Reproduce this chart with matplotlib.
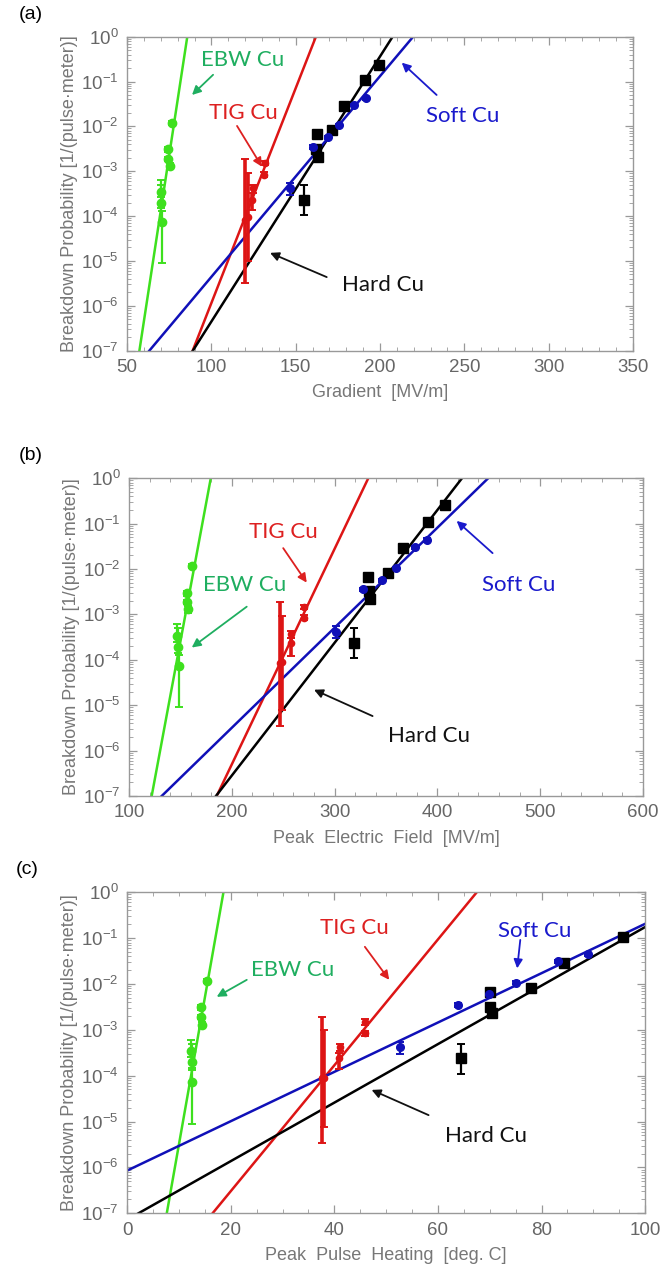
import numpy as np
import matplotlib
matplotlib.use("Agg")
import matplotlib.pyplot as plt
from matplotlib.ticker import LogLocator, MultipleLocator, NullFormatter

plt.rcParams['font.family'] = ['Liberation Sans', 'DejaVu Sans']

# ---------------- data ----------------
# (a) gradient [MV/m]
a_ebw_x = [70.0, 70.0, 70.5, 74.1, 74.5, 75.5, 76.9]
a_ebw_y = [3.5e-4, 2.0e-4, 7.5e-5, 3.1e-3, 1.9e-3, 1.3e-3, 1.17e-2]
a_ebw_lo = [2.6e-4, 1.5e-4, 9.0e-6, 2.7e-3, 1.7e-3, 1.1e-3, 1.05e-2]
a_ebw_hi = [6.3e-4, 5.0e-4, 1.3e-4, 3.4e-3, 2.1e-3, 1.5e-3, 1.3e-2]
a_tig_x = [120.0, 121.5, 123.9, 124.5, 131.3, 131.5]
a_tig_y = [8.2e-5, 9.5e-5, 2.3e-4, 4.2e-4, 8.3e-4, 1.5e-3]
a_tig_lo = [3.2e-6, 1.0e-5, 1.4e-4, 3.3e-4, 7.5e-4, 1.35e-3]
a_tig_hi = [1.9e-3, 9.0e-4, 3.2e-4, 5.0e-4, 9.5e-4, 1.7e-3]
a_hard_x = [155.1, 162.0, 162.4, 163.4, 171.7, 178.4, 191.3, 199.4]
a_hard_y = [2.3e-4, 3.2e-3, 6.8e-3, 2.1e-3, 8.3e-3, 2.85e-2, 1.08e-1, 2.3e-1]
a_hard_lo = [1.07e-4, 3.2e-3, 6.8e-3, 2.1e-3, 8.3e-3, 2.85e-2, 1.08e-1, 2.3e-1]
a_hard_hi = [4.9e-4, 3.2e-3, 6.8e-3, 2.1e-3, 8.3e-3, 2.85e-2, 1.08e-1, 2.3e-1]
a_soft_x = [146.6, 160.1, 169.0, 175.4, 184.3, 191.9]
a_soft_y = [4.2e-4, 3.5e-3, 5.7e-3, 1.08e-2, 3.0e-2, 4.2e-2]
a_soft_lo = [3.0e-4, 3.2e-3, 5.3e-3, 1.0e-2, 2.8e-2, 3.9e-2]
a_soft_hi = [5.5e-4, 3.8e-3, 6.1e-3, 1.15e-2, 3.2e-2, 4.5e-2]
# fits: x where P = 1e-7 and x where P = 1  (EBW, TIG, Hard, Soft)
a_fit_x0 = [57.3, 88.9, 89.0, 63.2]
a_fit_x1 = [85.7, 162.0, 207.5, 219.7]

# (b) peak electric field [MV/m]
b_ebw_x = [146.9, 148.0, 148.8, 156.1, 156.5, 157.7, 161.0]
b_ebw_y = [3.4e-4, 1.9e-4, 7.4e-5, 2.9e-3, 1.9e-3, 1.3e-3, 1.17e-2]
b_ebw_lo = [2.5e-4, 1.4e-4, 8.9e-6, 2.6e-3, 1.7e-3, 1.1e-3, 1.05e-2]
b_ebw_hi = [6.0e-4, 5.0e-4, 1.3e-4, 3.3e-3, 2.1e-3, 1.5e-3, 1.3e-2]
b_tig_x = [247.0, 249.0, 257.3, 257.8, 270.2, 270.5]
b_tig_y = [8.4e-5, 9.0e-5, 2.3e-4, 3.7e-4, 8.3e-4, 1.45e-3]
b_tig_lo = [3.4e-6, 8.0e-6, 1.2e-4, 3.0e-4, 7.5e-4, 1.3e-3]
b_tig_hi = [1.9e-3, 9.0e-4, 3.0e-4, 4.4e-4, 9.5e-4, 1.6e-3]
b_hard_x = [319.2, 332.6, 333.6, 334.4, 352.0, 366.2, 391.2, 407.4]
b_hard_y = [2.3e-4, 6.8e-3, 3.2e-3, 2.2e-3, 8.3e-3, 2.88e-2, 1.07e-1, 2.58e-1]
b_hard_lo = [1.07e-4, 6.8e-3, 3.2e-3, 2.2e-3, 8.3e-3, 2.88e-2, 1.07e-1, 2.58e-1]
b_hard_hi = [5.0e-4, 6.8e-3, 3.2e-3, 2.2e-3, 8.3e-3, 2.88e-2, 1.07e-1, 2.58e-1]
b_soft_x = [301.5, 327.8, 345.8, 360.0, 378.7, 390.4]
b_soft_y = [4.2e-4, 3.6e-3, 5.7e-3, 1.04e-2, 3.0e-2, 4.4e-2]
b_soft_lo = [3.0e-4, 3.3e-3, 5.3e-3, 9.6e-3, 2.8e-2, 4.0e-2]
b_soft_hi = [5.6e-4, 3.9e-3, 6.1e-3, 1.1e-2, 3.2e-2, 4.8e-2]
b_fit_x0 = [122.0, 185.3, 184.6, 131.8]
b_fit_x1 = [179.5, 332.8, 424.0, 449.5]

# (c) peak pulse heating [deg. C]
c_ebw_x = [12.4, 12.6, 12.6, 14.3, 14.3, 14.4, 15.4]
c_ebw_y = [3.4e-4, 2.0e-4, 7.4e-5, 3.1e-3, 1.9e-3, 1.3e-3, 1.17e-2]
c_ebw_lo = [2.5e-4, 1.5e-4, 8.9e-6, 2.7e-3, 1.7e-3, 1.1e-3, 1.05e-2]
c_ebw_hi = [6.0e-4, 5.0e-4, 1.3e-4, 3.4e-3, 2.1e-3, 1.5e-3, 1.3e-2]
c_tig_x = [37.6, 38.0, 40.9, 41.1, 45.9, 46.0]
c_tig_y = [8.8e-5, 9.0e-5, 2.4e-4, 4.3e-4, 8.5e-4, 1.5e-3]
c_tig_lo = [3.4e-6, 7.5e-6, 1.4e-4, 3.5e-4, 7.5e-4, 1.3e-3]
c_tig_hi = [1.9e-3, 1.0e-3, 3.2e-4, 5.0e-4, 9.5e-4, 1.7e-3]
c_hard_x = [64.5, 70.1, 70.1, 70.4, 77.9, 84.4, 95.8]
c_hard_y = [2.4e-4, 6.8e-3, 3.1e-3, 2.3e-3, 8.3e-3, 2.8e-2, 1.07e-1]
c_hard_lo = [1.1e-4, 6.8e-3, 3.1e-3, 2.3e-3, 8.3e-3, 2.8e-2, 1.07e-1]
c_hard_hi = [4.9e-4, 6.8e-3, 3.1e-3, 2.3e-3, 8.3e-3, 2.8e-2, 1.07e-1]
c_soft_x = [52.7, 63.9, 69.8, 75.1, 83.2, 89.0]
c_soft_y = [4.3e-4, 3.5e-3, 6.0e-3, 1.07e-2, 3.1e-2, 4.4e-2]
c_soft_lo = [3.0e-4, 3.2e-3, 5.6e-3, 1.0e-2, 2.9e-2, 4.0e-2]
c_soft_hi = [5.5e-4, 3.8e-3, 6.4e-3, 1.15e-2, 3.3e-2, 4.8e-2]
c_fit_x0 = [7.66, 16.5, 2.2, -17.3]
c_fit_x1 = [18.6, 67.5, 111.9, 112.8]

x_labels = ["Gradient  [MV/m]", "Peak  Electric  Field  [MV/m]", "Peak  Pulse  Heating  [deg. C]"]
panel_tags = ["(a)", "(b)", "(c)"]
materials = ["EBW Cu", "TIG Cu", "Hard Cu", "Soft Cu"]

# ---------------- style ----------------
line_cols = ["#3ee01e", "#dd1515", "#000000", "#1010b8"]
text_cols = ["#1fae60", "#dd2020", "#111111", "#1a1acc"]
gray = "#777777"

fig = plt.figure(figsize=(6.62, 12.77), dpi=100)
axes_pos = [[0.192, 0.7254, 0.764, 0.2459],
            [0.195, 0.3767, 0.776, 0.2488],
            [0.192, 0.0499, 0.7825, 0.2514]]
xlims = [(50, 350), (100, 600), (0, 100)]
xmajor = [50, 100, 20]
xminor = [10, 20, 5]

# annotation layout: (text x, text log10y, tail x, tail log10y, head x, head log10y)
notes = [
    [(118.5, -0.52, 101, -0.85, 88.5, -1.30),
     (118.8, -1.70, 115.2, -1.99, 130, -2.90),
     (202, -5.53, 168.4, -5.36, 134.8, -4.82),
     (249, -1.78, 233.6, -1.30, 212.9, -0.58)],
    [(212.5, -2.35, 214.5, -2.83, 161, -3.73),
     (250, -1.18, 250, -1.54, 272.9, -2.30),
     (392, -5.68, 337, -5.24, 280, -4.66),
     (479, -2.35, 453.8, -1.65, 418.8, -0.94)],
    [(31.9, -1.69, 23.1, -1.91, 17.3, -2.28),
     (43.8, -0.785, 45.9, -1.19, 50.6, -1.91),
     (69.3, -5.31, 58.2, -4.86, 47.2, -4.31),
     (78.6, -0.84, 75.9, -1.04, 75.3, -1.66)],
]

panels = [
    [(a_ebw_x, a_ebw_y, a_ebw_lo, a_ebw_hi), (a_tig_x, a_tig_y, a_tig_lo, a_tig_hi),
     (a_hard_x, a_hard_y, a_hard_lo, a_hard_hi), (a_soft_x, a_soft_y, a_soft_lo, a_soft_hi)],
    [(b_ebw_x, b_ebw_y, b_ebw_lo, b_ebw_hi), (b_tig_x, b_tig_y, b_tig_lo, b_tig_hi),
     (b_hard_x, b_hard_y, b_hard_lo, b_hard_hi), (b_soft_x, b_soft_y, b_soft_lo, b_soft_hi)],
    [(c_ebw_x, c_ebw_y, c_ebw_lo, c_ebw_hi), (c_tig_x, c_tig_y, c_tig_lo, c_tig_hi),
     (c_hard_x, c_hard_y, c_hard_lo, c_hard_hi), (c_soft_x, c_soft_y, c_soft_lo, c_soft_hi)],
]
fits = [(a_fit_x0, a_fit_x1), (b_fit_x0, b_fit_x1), (c_fit_x0, c_fit_x1)]

markers = ["o", "o", "s", "o"]
msizes = [6, 4.5, 7, 5.5]

for p in range(3):
    ax = fig.add_axes(axes_pos[p])
    ax.set_yscale("log")
    ax.set_xlim(*xlims[p])
    ax.set_ylim(1e-7, 1)

    # fit lines
    x0s, x1s = fits[p]
    for k in range(4):
        xx = np.linspace(xlims[p][0], xlims[p][1], 400)
        yy = 10 ** (-7 + 7 * (xx - x0s[k]) / (x1s[k] - x0s[k]))
        ax.plot(xx, yy, color=line_cols[k], lw=1.8, zorder=2)

    # data points with error bars
    for k in range(4):
        x, y, lo, hi = panels[p][k]
        y = np.array(y)
        err = [y - np.array(lo), np.array(hi) - y]
        elw = 2.6 if k == 1 else 1.6
        ax.errorbar(x, y, yerr=err, fmt=markers[k], ms=msizes[k], color=line_cols[k],
                    ecolor=line_cols[k], elinewidth=elw, capsize=3, capthick=1.4, zorder=3)

    # labels with arrows
    for k in range(4):
        tx, ty, ax0, ay0, hx, hy = notes[p][k]
        ax.text(tx, 10 ** ty, materials[k], color=text_cols[k], fontsize=16,
                family=['Lato', 'DejaVu Sans'], ha="center", va="center", zorder=5)
        ax.annotate("", xy=(hx, 10 ** hy), xytext=(ax0, 10 ** ay0),
                    arrowprops=dict(arrowstyle="-|>", color=text_cols[k], lw=1.3,
                                    mutation_scale=13, shrinkA=0, shrinkB=0), zorder=5)

    # axes styling
    ax.xaxis.set_major_locator(MultipleLocator(xmajor[p]))
    ax.xaxis.set_minor_locator(MultipleLocator(xminor[p]))
    ax.yaxis.set_major_locator(LogLocator(base=10, numticks=10))
    ax.yaxis.set_minor_locator(LogLocator(base=10, subs=np.arange(2, 10), numticks=12))
    ax.yaxis.set_minor_formatter(NullFormatter())
    ax.tick_params(which="both", direction="in", top=True, right=True, colors="#999999",
                   labelcolor="#666666", labelsize=13.5)
    ax.tick_params(which="major", length=6, width=0.9, pad=6)
    ax.tick_params(which="minor", length=3, width=0.6)
    for s in ax.spines.values():
        s.set_color("#999999")
        s.set_linewidth(1.0)
    ax.set_xlabel(x_labels[p], color=gray, fontsize=13, labelpad=6)
    ax.set_ylabel("Breakdown Probability [1/(pulse\u00b7meter)]", color=gray, fontsize=13, labelpad=2)
    ax.text(-0.215, 1.07, panel_tags[p], transform=ax.transAxes, fontsize=14, color="black",
            ha="left", va="center")

fig.savefig("out.png", dpi=100)
